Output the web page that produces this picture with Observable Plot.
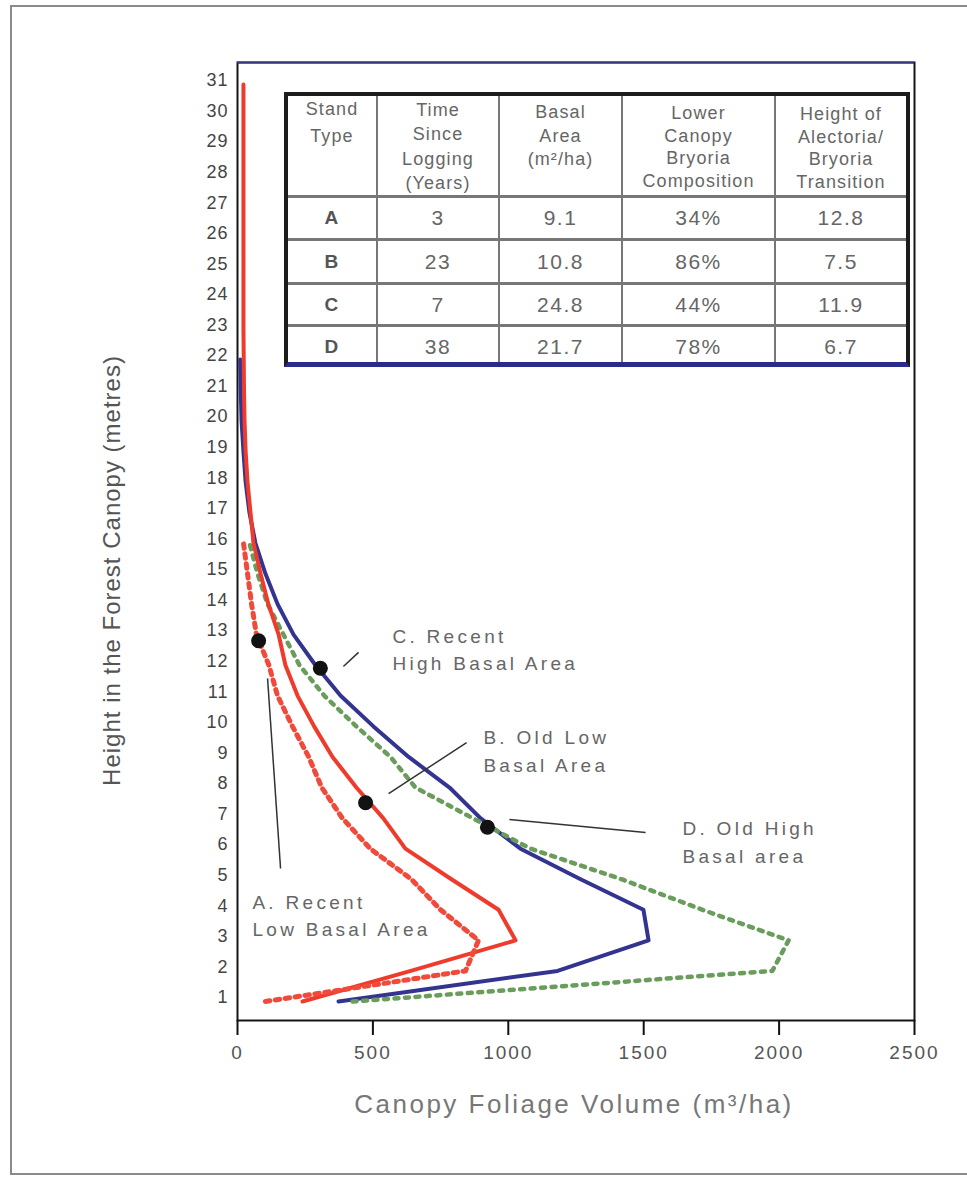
<!DOCTYPE html>
<html>
<head>
<meta charset="utf-8">
<script src="https://cdn.jsdelivr.net/npm/d3@7"></script>
<script src="https://cdn.jsdelivr.net/npm/@observablehq/plot@0.6"></script>
<style>
  html, body { margin: 0; padding: 0; background: #fff; overflow: hidden; }
  #page { position: relative; width: 967px; height: 1179px; overflow: hidden; font-family: "Liberation Sans", Arial, sans-serif; }
  #border { position: absolute; left: 10px; top: 5px; width: 1010px; height: 1170px; border: 2px solid #8a8a8a; border-right: none; box-sizing: border-box; }
  #chart { position: absolute; left: 0; top: 0; }
  .tbl { position: absolute; left: 284px; top: 92px; width: 626px; height: 275px; box-sizing: border-box;
         border: 4px solid #1c1c1c; border-bottom: 5px solid #2b2b8c; background: #777;
         display: grid; grid-template-columns: 88px 120px 121px 151px 130px;
         grid-template-rows: 99px 40px 41px 39px 35px; column-gap: 2px; row-gap: 3px; }
  .tbl div { background: #fff; color: #666; display: flex; justify-content: center; text-align: center; }
  .tbl .hd { align-items: flex-start; font-size: 18px; line-height: 23px; letter-spacing: 1.1px; }
  .tbl .cell { align-items: center; font-size: 21px; letter-spacing: 1.5px; }
  .tbl .first { font-weight: bold; color: #555; font-size: 19px; }
</style>
</head>
<body>
<div id="page">
  <div id="border"></div>
  <div id="chart"></div>
  <div class="tbl" id="tbl"></div>
</div>
<script>
// ---------- data ----------
const heights = d3.range(1, 32);                       // metres, 1..31
// Canopy foliage volume (m3/ha) by height, starting at 1 m
const volA = [103, 842, 890, 750, 642, 490, 387, 311, 263, 203, 148, 116, 70, 52, 37, 22];           // A: recent, low BA (red dotted)
const volB = [240, 640, 1027, 964, 790, 620, 538, 439, 351, 283, 222, 177, 152, 114, 85, 59, 48, 37, 30, 26,
              24, 23, 22, 22, 22, 22, 22, 22, 22, 22, 22];                                          // B: old, low BA (red solid)
const volC = [373, 1182, 1518, 1499, 1267, 1045, 897, 783, 632, 502, 381, 288, 207, 148, 103, 66, 44, 30, 22, 15, 12, 10]; // blue solid
const volD = [425, 1975, 2035, 1717, 1418, 1082, 868, 657, 565, 439, 321, 229, 170, 111, 74, 44];   // green dotted

// table
const standType = ["A", "B", "C", "D"];
const timeSince = ["3", "23", "7", "38"];
const basalArea = ["9.1", "10.8", "24.8", "21.7"];
const bryoriaComp = ["34%", "86%", "44%", "78%"];
const transitionHeight = [12.8, 7.5, 11.9, 6.7];
const headers = [["Stand", "Type"], ["Time", "Since", "Logging", "(Years)"], ["Basal", "Area", "(m²/ha)"],
                 ["Lower", "Canopy", "Bryoria", "Composition"], ["Height of", "Alectoria/", "Bryoria", "Transition"]];

// transition markers (volume)
const markerVol = [78, 473, 306, 923];

// annotations
const labelText = ["C. Recent\nHigh Basal Area", "B. Old Low\nBasal Area", "D. Old High\nBasal area", "A. Recent\nLow Basal Area"];
const labelVol = [572, 908, 1643, 55];
const labelH = [12.58, 9.26, 6.27, 3.88];
const leaderX1 = [391, 558, 1004, 111];
const leaderY1 = [11.96, 7.80, 6.95, 11.57];
const leaderX2 = [447, 846, 1507, 159];
const leaderY2 = [12.42, 9.47, 6.53, 5.35];

const xTicks = [0, 500, 1000, 1500, 2000, 2500];
const yTicks = heights;
const xDomain = [0, 2500];
const yDomain = [0.378, 31.72];
const xTitle = "Canopy Foliage Volume (m³/ha)";
const yTitle = "Height in the Forest Canopy (metres)";

// ---------- build ----------
const toRows = (vals) => vals.map((v, i) => ({v, h: heights[i]}));
const rowsA = toRows(volA), rowsB = toRows(volB), rowsC = toRows(volC), rowsD = toRows(volD);
const markers = standType.map((s, i) => ({s, v: markerVol[i], h: transitionHeight[i]}));
const labels = labelText.map((t, i) => ({t, v: labelVol[i], h: labelH[i]}));
const leaders = labelText.map((t, i) => ({x1: leaderX1[i], y1: leaderY1[i], x2: leaderX2[i], y2: leaderY2[i]}));

const svg = Plot.plot({
  width: 967, height: 1179,
  marginLeft: 237, marginRight: 53, marginTop: 62, marginBottom: 159,
  style: {fontFamily: "Liberation Sans, Arial, sans-serif", fontSize: "18px", color: "#444", background: "transparent", overflow: "visible"},
  x: {domain: xDomain},
  y: {domain: yDomain},
  marks: [
    Plot.axisY({ticks: yTicks, tickSize: 0, tickPadding: 9, dy: -4, fontSize: 18, fill: "#444", label: null, tickFormat: d => String(d)}),
    Plot.axisX({ticks: xTicks, tickSize: 15, tickPadding: 10, stroke: "#111", strokeWidth: 2, fill: "#555", fontSize: 19, label: null, tickFormat: d => String(d)}),
    Plot.frame({stroke: "#141414", strokeWidth: 2}),
    Plot.ruleY([yDomain[1]], {stroke: "#3a3a80", strokeWidth: 2}),
    Plot.line(rowsC, {x: "v", y: "h", stroke: "#33348f", strokeWidth: 4}),
    Plot.line(rowsD, {x: "v", y: "h", stroke: "#6a9c5c", strokeWidth: 4.5, strokeDasharray: "4,6.5"}),
    Plot.line(rowsB, {x: "v", y: "h", stroke: "#ef3b2c", strokeWidth: 4}),
    Plot.line(rowsA, {x: "v", y: "h", stroke: "#ef4a3a", strokeWidth: 5, strokeDasharray: "4.5,5.5"}),
    Plot.link(leaders, {x1: "x1", y1: "y1", x2: "x2", y2: "y2", stroke: "#333", strokeWidth: 1.5}),
    Plot.dot(markers, {x: "v", y: "h", r: 7.5, fill: "#121212", stroke: "none"}),
    Plot.text(labels, {x: "v", y: "h", text: "t", textAnchor: "start", lineAnchor: "middle", lineHeight: 1.45,
                       fontSize: 19, fill: "#666"}),
    Plot.text([xTitle], {frameAnchor: "bottom", textAnchor: "middle", lineAnchor: "middle", dx: -2, dy: 84, fontSize: 26, fill: "#777"}),
    Plot.text([yTitle], {frameAnchor: "left", textAnchor: "middle", lineAnchor: "middle", dx: -125, dy: 29, rotate: -90, fontSize: 24, fill: "#555"})
  ]
});
document.getElementById("chart").appendChild(svg);

const sel = d3.select(svg);
const textGroups = sel.selectAll('g[aria-label="text"]').nodes();
if (textGroups[0]) d3.select(textGroups[0]).selectAll("text").style("letter-spacing", "3.3px");
if (textGroups[1]) d3.select(textGroups[1]).selectAll("text").style("letter-spacing", "2.5px");
if (textGroups[2]) d3.select(textGroups[2]).selectAll("text").style("letter-spacing", "1px");
sel.selectAll('g[aria-label="x-axis tick label"] text').style("letter-spacing", "2px");
sel.selectAll('g[aria-label="y-axis tick label"] text').style("letter-spacing", "1px");

// table
const tbl = document.getElementById("tbl");
const pads = [0, 2, 5, 6, 7];
const lhs = [27, 24.3, 23.5, 22.7, 22.7];
headers.forEach((lines, i) => {
  const d = document.createElement("div");
  d.className = "hd";
  d.style.paddingTop = pads[i] + "px";
  d.style.lineHeight = lhs[i] + "px";
  d.innerHTML = "<span>" + lines.join("<br>") + "</span>";
  tbl.appendChild(d);
});
standType.forEach((s, r) => {
  [s, timeSince[r], basalArea[r], bryoriaComp[r], transitionHeight[r].toFixed(1)].forEach((val, c) => {
    const d = document.createElement("div");
    d.className = "cell" + (c === 0 ? " first" : "");
    if (r === 3) d.style.paddingTop = "5px";
    d.textContent = val;
    tbl.appendChild(d);
  });
});
</script>
</body>
</html>
